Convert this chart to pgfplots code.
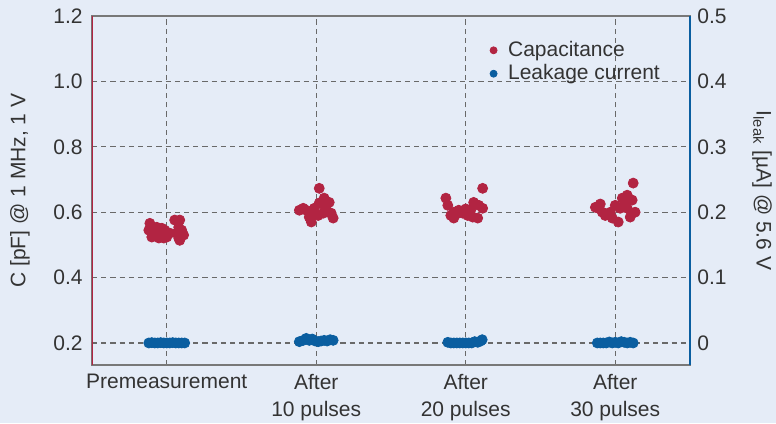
\documentclass[border=0pt]{standalone}
\usepackage{pgfplots}
\pgfplotsset{compat=1.18}
\usepackage{fontspec}
\setmainfont{Liberation Sans}
\usetikzlibrary{backgrounds}
\definecolor{bg}{RGB}{229,236,247}
\definecolor{capred}{RGB}{178,36,66}
\definecolor{leakblue}{RGB}{10,94,160}
\definecolor{txt}{RGB}{51,51,51}
\definecolor{gridc}{RGB}{105,105,105}
\definecolor{axc}{RGB}{120,120,120}
\begin{document}
\fontsize{10.5}{12.6}\selectfont
\begin{tikzpicture}
\useasboundingbox (-46pt,-29pt) rectangle (342pt,182.5pt);
\begin{scope}[on background layer]
\fill[bg] (-46pt,-29pt) rectangle (342pt,182.5pt);
\end{scope}
\pgfplotsset{
 common/.style={
  at={(0,0)}, anchor=south west,
  scale only axis, width=299pt, height=174.5pt,
  xmin=-0.5, xmax=3.5,
  tick style={draw=none},
  ticklabel style={font=\fontsize{10.5}{12.6}\selectfont, text=txt},
  label style={font=\fontsize{10.5}{12.6}\selectfont, text=txt},
  /pgf/number format/assume math mode=true,
 }
}
\begin{axis}[common,
  ymin=0.1327, ymax=1.2,
  ytick={0.2,0.4,0.6,0.8,1.0,1.2},
  yticklabel style={/pgf/number format/fixed, /pgf/number format/fixed zerofill, /pgf/number format/precision=1, xshift=-1pt},
  xtick={0,1,2,3},
  xticklabels={Premeasurement,{After\\10 pulses},{After\\20 pulses},{After\\30 pulses}},
  xticklabel style={align=center, yshift=-1pt, font=\fontsize{10.5}{13.5}\selectfont},
  xmajorgrids, ymajorgrids,
  grid style={gridc, line width=0.65pt, dash pattern=on 2.6pt off 2pt},
  axis line style={axc, line width=0.6pt},
  ylabel={C [pF] @ 1 MHz, 1 V},
  ylabel style={at={(rel axis cs:0,0.5)}, anchor=center, yshift=36pt},
]
\addplot[only marks, mark=*, mark size=2.5pt, capred, mark options={draw=none, fill=capred}] coordinates {
(-0.113,0.566) (-0.12,0.545) (-0.1,0.524) (-0.08,0.539) (-0.067,0.554) (-0.047,0.530)
(-0.033,0.551) (-0.013,0.545) (0,0.524) (-0.053,0.521) (-0.02,0.521) (0.02,0.536)
(0.053,0.576) (0.087,0.576) (0.08,0.554) (0.1,0.545) (0.067,0.536) (0.113,0.530)
(0.08,0.521) (0.087,0.514)
(0.887,0.606) (0.913,0.612) (0.933,0.606) (0.953,0.585) (0.967,0.57) (0.987,0.612)
(1.013,0.59) (1.02,0.628) (1.02,0.673) (1.047,0.597) (1.053,0.643) (1.067,0.621)
(1.08,0.60) (1.1,0.597) (1.113,0.582) (1.087,0.63) (1.06,0.61) (0.98,0.6)
(1.867,0.643) (1.88,0.621) (1.9,0.59) (1.92,0.582) (1.92,0.60) (1.953,0.606)
(1.98,0.597) (2.013,0.59) (2.033,0.606) (2.053,0.63) (2.087,0.621) (2.113,0.612)
(2.08,0.582) (2.047,0.585) (2.113,0.673) (2.0,0.61) (1.94,0.595)
(2.867,0.615) (2.887,0.612) (2.913,0.60) (2.933,0.59) (2.967,0.60) (2.98,0.582)
(3.0,0.621) (3.02,0.57) (3.047,0.643) (3.08,0.652) (3.08,0.612) (3.1,0.585)
(3.133,0.60) (3.113,0.637) (3.033,0.612) (3.12,0.689) (2.9,0.625) (3.06,0.625)
};
\draw[capred, line width=1pt] (rel axis cs:0,0) -- (rel axis cs:0,1);
\end{axis}
\begin{axis}[common,
  ymin=-0.0337, ymax=0.5,
  axis x line=none,
  axis y line*=right,
  y axis line style={-, leakblue, line width=1pt},
  ytick={0,0.1,0.2,0.3,0.4,0.5},
  yticklabel style={/pgf/number format/fixed, /pgf/number format/precision=1},
  ylabel={I\textsubscript{leak} [µA] @ 5.6 V},
  ylabel style={at={(rel axis cs:1,0.5)}, anchor=center, rotate=180, yshift=36pt},
  legend style={at={(0.655,0.952)}, anchor=north west, draw=none, fill=none,
    font=\fontsize{10.5}{12.6}\selectfont, text=txt, row sep=-1.5pt, column sep=3.5pt},
  legend cell align=left,
]
\addlegendimage{only marks, mark=*, mark size=1.75pt, capred, mark options={draw=none, fill=capred}}
\addlegendentry{Capacitance}
\addlegendimage{only marks, mark=*, mark size=1.75pt, leakblue, mark options={draw=none, fill=leakblue}}
\addlegendentry{Leakage current}
\addplot[only marks, mark=*, mark size=2.5pt, leakblue, mark options={draw=none, fill=leakblue}, forget plot] coordinates {
(-0.12,0.0) (-0.1,0.0005) (-0.08,0.0) (-0.06,0.0) (-0.04,0.0005) (-0.02,0.0) (0,0.0)
(0.02,0.0) (0.04,0.0005) (0.06,0.0) (0.08,0.0) (0.1,0.0) (0.12,0.0)
(0.887,0.002) (0.913,0.004) (0.933,0.007) (0.953,0.004) (0.973,0.006) (0.993,0.003)
(1.013,0.002) (1.033,0.003) (1.053,0.004) (1.073,0.003) (1.093,0.005) (1.113,0.004)
(1.88,0.001) (1.90,0.0) (1.92,0.0) (1.94,0.0) (1.96,0.0) (1.98,0.0) (2.0,0.0)
(2.02,0.0) (2.04,0.0) (2.06,0.002) (2.08,0.001) (2.10,0.003) (2.11,0.005)
(2.88,0.0) (2.90,0.0) (2.92,0.0) (2.94,0.0) (2.96,0.0015) (2.98,0.0) (3.0,0.001)
(3.02,0.0) (3.04,0.002) (3.06,0.001) (3.08,0.0) (3.10,0.001) (3.12,0.0)
};
\draw[leakblue, line width=1pt] (rel axis cs:1,0) -- (rel axis cs:1,1);
\end{axis}
\end{tikzpicture}
\end{document}
